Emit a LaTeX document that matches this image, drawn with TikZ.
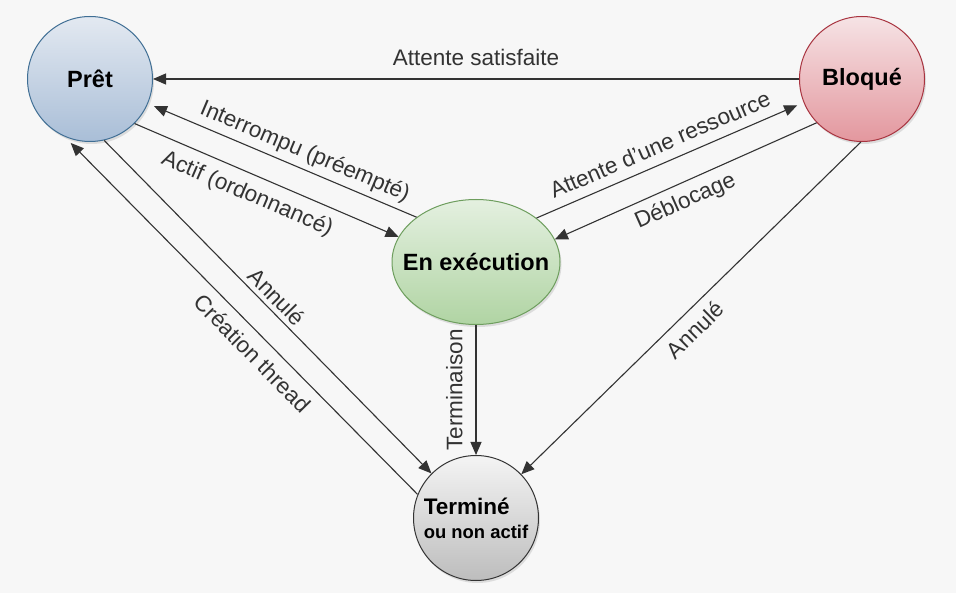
\documentclass[tikz,border=0pt]{standalone}
\usepackage{fontspec}
\setmainfont{Liberation Sans}
\usetikzlibrary{arrows.meta,shapes.geometric,shadows}
\definecolor{bg}{HTML}{F7F7F7}
\definecolor{ink}{HTML}{333333}
\definecolor{pretT}{HTML}{E3E9F1}
\definecolor{pretD}{HTML}{A9BED7}
\definecolor{pretL}{HTML}{3F6E94}
\definecolor{bloqT}{HTML}{F6E3E5}
\definecolor{bloqD}{HTML}{E3979E}
\definecolor{bloqL}{HTML}{A8333F}
\definecolor{execT}{HTML}{E4F0E0}
\definecolor{execD}{HTML}{B0D4A3}
\definecolor{execL}{HTML}{6E9E5E}
\definecolor{termT}{HTML}{F4F4F4}
\definecolor{termD}{HTML}{BDBDBD}
\definecolor{termL}{HTML}{333333}
\begin{document}
\begin{tikzpicture}[x=1pt,y=-1pt,
  shad/.style={drop shadow={shadow xshift=1.5pt, shadow yshift=-2.5pt, opacity=0.22}},
  statenode/.style={circle, minimum size=125pt, inner sep=0pt, line width=1pt, shad},
  namefont/.style={font=\bfseries\fontsize{23.5}{28}\selectfont, text=black},
  conn/.style={draw=ink, line width=1.1pt, -{Triangle[length=13pt,width=11pt]}},
  labfont/.style={font=\fontsize{22.5}{26}\selectfont, text=ink, inner xsep=0pt},
  abv/.style={labfont, sloped, anchor=south, text depth=0pt, inner ysep=#1},
  blw/.style={labfont, sloped, anchor=north, text height=16pt, inner ysep=#1},
]
\useasboundingbox (0,0) rectangle (956,593);
\fill[bg] (0,0) rectangle (956,593);

\node[statenode, draw=pretL, top color=pretT, bottom color=pretD, namefont] (Pret) at (90,79) {Prêt};
\node[statenode, draw=bloqL, top color=bloqT, bottom color=bloqD, namefont] (Bloque) at (862,79) {Bloqué};
\node[ellipse, minimum width=168pt, minimum height=125pt, inner sep=0pt, line width=1pt, shad,
      draw=execL, top color=execT, bottom color=execD,
      label={[namefont]center:En exécution}] (Exec) at (476,262) {};
\node[statenode, draw=termL, top color=termT, bottom color=termD, align=left,
      font=\bfseries\fontsize{18.4}{24}\selectfont] (Term) at (476,518)
      {{\fontsize{22.5}{24}\selectfont Terminé}\\ou non actif};

\draw[conn] (Bloque.180) -- (Pret.0) node[abv=13pt, midway] {Attente satisfaite};
\draw[conn, shorten >=6.5pt] (Exec.143.3) -- (Pret.-23.7) node[abv=10pt, pos=0.44] {Interrompu (préempté)};
\draw[conn] (Pret.-45) -- (Exec.162.9) node[blw=10pt, pos=0.457] {Actif (ordonnancé)};
\draw[conn, shorten >=7pt] (Exec.36.7) -- (Bloque.202.9) node[abv=10pt, pos=0.49] {Attente d’une ressource};
\draw[conn] (Bloque.224.4) -- (Exec.16.9) node[blw=8pt, pos=0.53] {Déblocage};
\draw[conn] (Exec.south) -- (Term.north) node[labfont, midway, rotate=90, anchor=south, text depth=0pt, inner ysep=13pt] {Terminaison};
\draw[conn] (Bloque.269) -- (Term.44.4) node[blw=10pt, pos=0.526] {Annulé};
\draw[conn] (Pret.-77.5) -- (Term.135.6) node[abv=5pt, pos=0.498] {Annulé};
\draw[conn, shorten >=9pt] (Term.158.7) -- (Pret.246.4) node[blw=10pt, pos=0.43] {Création thread};
\end{tikzpicture}
\end{document}
